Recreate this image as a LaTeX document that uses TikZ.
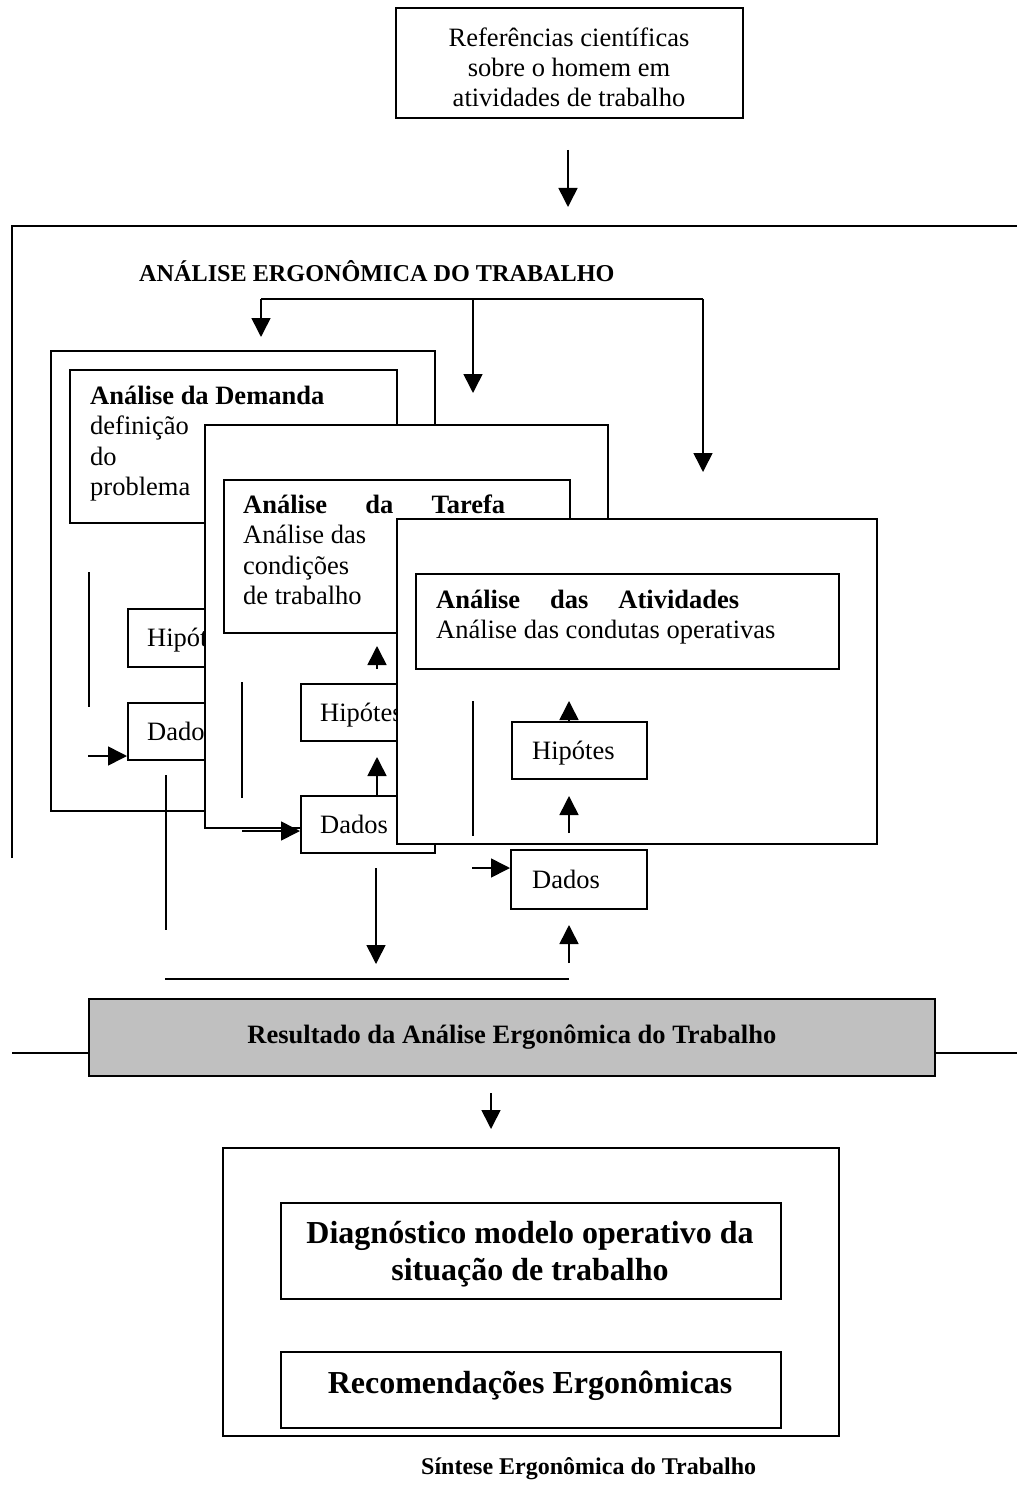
\documentclass[tikz,border=0pt]{standalone}
\usepackage{fontspec}
\setmainfont{Liberation Serif}
\usetikzlibrary{arrows.meta}
\definecolor{resgray}{RGB}{192,192,192}
\newcommand{\fn}{\fontsize{26.5}{30.5}\selectfont}
\newcommand{\linesL}[2]{\vtop{\baselineskip=#1\relax\halign{##\hfil\cr#2\crcr}}}
\newcommand{\linesC}[2]{\vtop{\baselineskip=#1\relax\halign{\hfil##\hfil\cr#2\crcr}}}
\begin{document}
\begin{tikzpicture}[x=1pt,y=-1pt,
 box/.style={draw, line width=1.8pt, fill=white, inner sep=0pt, anchor=north west},
 frame/.style={line width=1.8pt},
 ln/.style={line width=1.6pt},
 arr/.style={line width=1.6pt, -{Triangle[length=19pt,width=19pt]}},
 txt/.style={inner sep=0pt, anchor=base west, font=\fn},
 btxt/.style={inner sep=0pt, anchor=base west, font=\fn\bfseries},
]
\fill[white] (0,0) rectangle (1017,1495);
\useasboundingbox (0,0) rectangle (1017,1495);

% top box
\node[box, minimum width=347pt, minimum height=110pt] (ref) at (395,7) {};
\node[inner sep=0pt, anchor=base, font=\fn] (reftxt) at (569,47)
  {\linesC{29.8pt}{Referências científicas\cr sobre o homem em\cr atividades de trabalho}};
\coordinate (a1s) at (568,150); \coordinate (a1e) at (568,207);
\draw[arr] (a1s) -- (a1e);

% outer frame
\coordinate (fBL) at (12,858); \coordinate (fTL) at (12,226); \coordinate (fTR) at (1017,226);
\draw[frame] (fBL) -- (fTL) -- (fTR);
\node[inner sep=0pt, anchor=base west, font=\fontsize{24.2}{28}\selectfont\bfseries] (title) at (139,282) {ANÁLISE ERGONÔMICA DO TRABALHO};

% distribution arrows
\coordinate (dL) at (261,299); \coordinate (dM) at (473,299); \coordinate (dR) at (703,299);
\coordinate (dLe) at (261,337); \coordinate (dMe) at (473,393); \coordinate (dRe) at (703,472);
\draw[ln] (dL) -- (dR);
\draw[arr] (dL) -- (dLe);
\draw[arr] (dM) -- (dMe);
\draw[arr] (dR) -- (dRe);

% box A
\node[box, minimum width=384pt, minimum height=460pt] (outA) at (50,350) {};
\node[box, minimum width=327pt, minimum height=153pt] (inA) at (69,369) {};
\node[btxt] (tA1) at (90,404) {Análise da Demanda};
\node[txt] (tA2) at (90,434.5) {\linesL{30.5pt}{definição\cr do\cr problema}};
\coordinate (lA1) at (89,572); \coordinate (lA2) at (89,707);
\draw[ln] (lA1) -- (lA2);
\node[box, minimum width=120pt, minimum height=58pt] (hipA) at (127,608) {};
\node[txt] (hipAt) at ([xshift=20pt,yshift=-9pt]hipA.west) {Hipótes};
\node[box, minimum width=120pt, minimum height=57pt] (dadA) at (127,702) {};
\node[txt] (dadAt) at ([xshift=20pt,yshift=-9pt]dadA.west) {Dados};
\coordinate (aInS) at (88,756);
\draw[arr] (aInS) -- (aInS -| dadA.west);
\coordinate (lA3) at (166,775); \coordinate (lA4) at (166,930);
\draw[ln] (lA3) -- (lA4);

% box B
\node[box, minimum width=403pt, minimum height=403pt] (outB) at (204,424) {};
\node[box, minimum width=346pt, minimum height=153pt] (inB) at (223,479) {};
\node[btxt] (tB1) at (243,513) {\makebox[262pt][s]{Análise da Tarefa}};
\node[txt] (tB2) at (243,543.5) {\linesL{30.5pt}{Análise das\cr condições\cr de trabalho}};
\coordinate (lB1) at (242,682); \coordinate (lB2) at (242,798);
\draw[ln] (lB1) -- (lB2);
\node[box, minimum width=134pt, minimum height=57pt] (hipB) at (300,683) {};
\node[txt] (hipBt) at ([xshift=20pt,yshift=-9pt]hipB.west) {Hipótes};
\coordinate (bUpS) at (377,669); \coordinate (bUpE) at (377,646);
\draw[arr] (bUpS) -- (bUpE);
\node[box, minimum width=134pt, minimum height=57pt] (dadB) at (300,795) {};
\node[txt] (dadBt) at ([xshift=20pt,yshift=-9pt]dadB.west) {Dados};
\coordinate (bMidE) at (377,757);
\draw[arr] (dadB.north -| bMidE) -- (bMidE);
\coordinate (bInS) at (242,831);
\draw[arr] (bInS) -- (bInS -| dadB.west);

% box C
\node[box, minimum width=480pt, minimum height=325pt] (outC) at (396,518) {};
\node[box, minimum width=423pt, minimum height=95pt] (inC) at (415,573) {};
\node[btxt] (tC1) at (436,608) {\makebox[303pt][s]{Análise das Atividades}};
\node[txt] (tC2) at (436,638.5) {Análise das condutas operativas};
\coordinate (lC1) at (473,701); \coordinate (lC2) at (473,836);
\draw[ln] (lC1) -- (lC2);
\node[box, minimum width=135pt, minimum height=57pt] (hipC) at (511,721) {};
\node[txt] (hipCt) at ([xshift=21pt,yshift=-9pt]hipC.west) {Hipótes};
\coordinate (cTop) at (569,701);
\draw[arr] (hipC.north -| cTop) -- (cTop);
\coordinate (cMidS) at (569,833); \coordinate (cMidE) at (569,796);
\draw[arr] (cMidS) -- (cMidE);
\node[box, minimum width=136pt, minimum height=59pt] (dadC) at (510,849) {};
\node[txt] (dadCt) at ([xshift=22pt,yshift=-9pt]dadC.west) {Dados};
\coordinate (cInS) at (472,868);
\draw[arr] (cInS) -- (cInS -| dadC.west);
\coordinate (cUpS) at (569,963); \coordinate (cUpE) at (569,925);
\draw[arr] (cUpS) -- (cUpE);
\coordinate (dnS) at (376,868); \coordinate (dnE) at (376,964);
\draw[arr] (dnS) -- (dnE);
\coordinate (hL) at (165,979); \coordinate (hR) at (569,979);
\draw[ln] (hL) -- (hR);

% result
\node[box, fill=resgray, minimum width=846pt, minimum height=77pt, font=\fn\bfseries] (res) at (88,998) {Resultado da Análise Ergonômica do Trabalho};
\coordinate (sL) at (12,1053); \coordinate (sR) at (1017,1053);
\draw[frame] (sL) -- (sL -| res.west);
\draw[frame] (res.east |- sR) -- (sR);
\coordinate (a2s) at (491,1093); \coordinate (a2e) at (491,1129);
\draw[arr] (a2s) -- (a2e);

% synthesis
\node[box, minimum width=616pt, minimum height=288pt] (syn) at (222,1147) {};
\node[box, minimum width=500pt, minimum height=96pt] (diag) at (280,1202) {};
\node[inner sep=0pt, anchor=base, font=\fontsize{32}{37}\selectfont\bfseries] (diagt) at (530,1243)
  {\linesC{37pt}{Diagnóstico modelo operativo da\cr situação de trabalho}};
\node[box, minimum width=500pt, minimum height=76pt] (rec) at (280,1351) {};
\node[inner sep=0pt, anchor=base, font=\fontsize{32}{37}\selectfont\bfseries] (rect) at (530,1393) {Recomendações Ergonômicas};
\node[inner sep=0pt, anchor=base west, font=\fontsize{24}{28}\selectfont\bfseries] (sint) at (421,1474) {Síntese Ergonômica do Trabalho};
\end{tikzpicture}
\end{document}
